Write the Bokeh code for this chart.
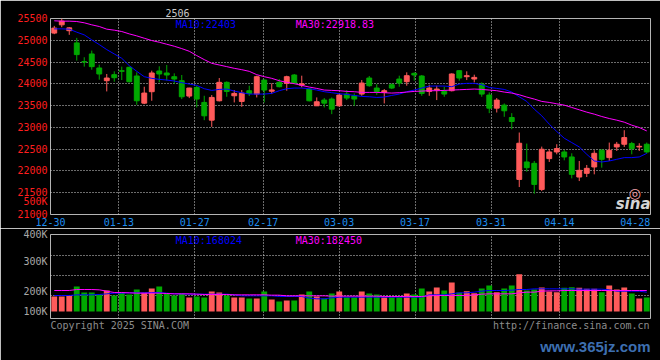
from bokeh.plotting import figure
from bokeh.layouts import column
from bokeh.models import Range1d, FixedTicker, Label, ColumnDataSource, Title
from bokeh.embed import file_html
from bokeh.resources import INLINE

# ---------------- data ----------------
dates = ["12-30", "12-31", "01-02", "01-03", "01-06", "01-07", "01-08", "01-09", "01-10",
         "01-13", "01-14", "01-15", "01-16", "01-17", "01-20", "01-21", "01-22", "01-23", "01-24",
         "01-27", "02-05", "02-06", "02-07", "02-10", "02-11", "02-12", "02-13", "02-14",
         "02-17", "02-18", "02-19", "02-20", "02-21", "02-24", "02-25", "02-26", "02-27", "02-28",
         "03-03", "03-04", "03-05", "03-06", "03-07", "03-10", "03-11", "03-12", "03-13", "03-14",
         "03-17", "03-18", "03-19", "03-20", "03-21", "03-24", "03-25", "03-26", "03-27", "03-28",
         "03-31", "04-01", "04-02", "04-03", "04-07", "04-08", "04-09", "04-10", "04-11",
         "04-14", "04-15", "04-16", "04-17", "04-18", "04-21", "04-22", "04-23", "04-24", "04-25",
         "04-28", "04-29", "04-30"]

opens = [25165, 25355, 25220, 24940, 24510, 24686, 24364, 24072, 24210, 24302,
         24379, 24180, 23557, 23819, 24295, 24249, 24164, 24072, 23719, 23918,
         23573, 23166, 23611, 24034, 23726, 23596, 23842, 23765, 24087, 23830,
         24034, 24011, 24203, 23970, 23880, 23496, 23627, 23650, 23496, 23765,
         23726, 23765, 24133, 23903, 23803, 23980, 24110, 24049, 24241, 24180,
         23826, 23857, 23826, 23842, 24302, 24164, 24110, 23995, 23742, 23442,
         23511, 23227, 21806, 22206, 22175, 21576, 22283, 22436, 22436, 22321,
         21860, 21945, 22091, 22475, 22306, 22551, 22613, 22628, 22551, 22613]

highs = [25330, 25500, 25300, 25055, 24610, 24763, 24441, 24226, 24287, 24395,
         24395, 24264, 23934, 24302, 24402, 24433, 24241, 24203, 23910, 23957,
         23726, 23742, 24133, 24057, 23857, 23857, 23957, 24187, 24100, 24011,
         24110, 24187, 24226, 24187, 23903, 23688, 23673, 23688, 23765, 23857,
         23780, 24087, 24180, 23995, 23880, 24011, 24187, 24264, 24264, 24203,
         23980, 23957, 23934, 24241, 24310, 24287, 24210, 24034, 23803, 23673,
         23550, 23327, 22882, 22628, 22229, 22559, 22498, 22613, 22482, 22405,
         22229, 22137, 22475, 22498, 22651, 22667, 22935, 22667, 22636, 22651]

lows = [25140, 25300, 25125, 24533, 24395, 24325, 24095, 23826, 24049, 24087,
        24030, 23519, 23534, 23611, 24034, 24072, 23995, 23650, 23672, 23458,
        23166, 23012, 23596, 23703, 23573, 23473, 23719, 23688, 23573, 23765,
        23918, 23842, 23995, 23918, 23596, 23490, 23458, 23304, 23473, 23627,
        23496, 23726, 23934, 23749, 23550, 23880, 23934, 23957, 24072, 23726,
        23726, 23627, 23703, 23826, 24072, 24087, 24034, 23703, 23327, 23342,
        23243, 22958, 21630, 21983, 21476, 21538, 22206, 22382, 22244, 21829,
        21768, 21860, 21922, 22075, 22229, 22459, 22551, 22382, 22459, 22398]

closes = [25280, 25440, 25285, 24671, 24500, 24395, 24226, 24133, 24141, 24287,
          24049, 23611, 23788, 24249, 24226, 24203, 24110, 23703, 23903, 23650,
          23266, 23688, 24034, 23826, 23780, 23788, 23780, 24164, 23857, 23860,
          23934, 24164, 24018, 24000, 23611, 23588, 23557, 23419, 23742, 23673,
          23650, 24018, 23957, 23826, 23842, 23903, 24018, 24187, 24203, 23780,
          23903, 23880, 23765, 24226, 24133, 24187, 24148, 23765, 23442, 23627,
          23381, 23135, 22636, 22075, 21691, 22498, 22436, 22513, 22321, 21922,
          22014, 22060, 22405, 22267, 22475, 22613, 22766, 22513, 22566, 22436]

ma10 = [25262, 25262, 25255, 25186, 25124, 25009, 24901, 24786, 24686, 24587,
        24418, 24287, 24164, 24126, 24103, 24087, 24064, 24026, 23995, 23964,
        23888, 23849, 23872, 23880, 23834, 23796, 23765, 23765, 23765, 23780,
        23842, 23888, 23903, 23903, 23888, 23857, 23819, 23796, 23773, 23757,
        23734, 23711, 23703, 23688, 23696, 23734, 23765, 23819, 23857, 23903,
        23949, 23949, 23949, 23934, 23995, 24011, 24011, 23980, 23918, 23895,
        23872, 23811, 23703, 23596, 23419, 23266, 23074, 22905, 22751, 22651,
        22551, 22382, 22229, 22206, 22229, 22267, 22306, 22306, 22321, 22403]

ma30 = [25447, 25439, 25439, 25431, 25401, 25355, 25316, 25255, 25232, 25201,
        25147, 25101, 25047, 24994, 24955, 24909, 24863, 24809, 24748, 24648,
        24556, 24471, 24433, 24395, 24356, 24325, 24287, 24210, 24164, 24126,
        24072, 24034, 24003, 23964, 23926, 23895, 23857, 23849, 23842, 23826,
        23819, 23803, 23803, 23803, 23796, 23788, 23796, 23811, 23826, 23834,
        23842, 23842, 23849, 23857, 23865, 23872, 23880, 23872, 23857, 23842,
        23811, 23788, 23749, 23696, 23650, 23596, 23573, 23542, 23511, 23458,
        23404, 23350, 23304, 23250, 23204, 23166, 23120, 23051, 22997, 22918.83]

volume = [130500, 130500, 139200, 217500, 165300, 165300, 147900, 182700, 139200, 162400,
          147900, 191400, 162400, 200100, 217500, 153700, 139200, 153700, 121800, 130500,
          121800, 174000, 165300, 139200, 121800, 121800, 113100, 113100, 174000, 104400,
          87000, 95700, 95700, 147900, 174000, 130500, 113100, 156600, 174000, 124700,
          124700, 174000, 156600, 147900, 124700, 124700, 124700, 156600, 147900, 200100,
          174000, 208800, 182700, 252300, 165300, 176900, 159500, 200100, 226200, 168200,
          200100, 226200, 324800, 182700, 191400, 208800, 174000, 168200, 205900, 211700,
          205900, 197200, 197200, 168200, 226200, 191400, 208800, 156600, 113100, 121800]

vol_ma10 = [139200, 139200, 139200, 145000, 145000, 145000, 147900, 153700, 159500, 159500,
            162400, 162400, 162400, 165300, 165300, 159500, 153700, 153700, 150800, 150800,
            150800, 150800, 150800, 150800, 145000, 136300, 136300, 136300, 136300, 136300,
            130500, 130500, 130500, 130500, 116000, 110200, 110200, 118900, 124700, 124700,
            124700, 124700, 124700, 124700, 124700, 124700, 124700, 124700, 124700, 124700,
            145000, 145000, 145000, 153700, 162400, 162400, 168200, 176900, 182700, 182700,
            182700, 185600, 191400, 191400, 197200, 197200, 197200, 197200, 197200, 197200,
            194300, 194300, 194300, 194300, 188500, 176900, 176900, 176900, 176900, 168024]

vol_ma30 = [182700, 182700, 182700, 191400, 191400, 191400, 188500, 176900, 165300, 165300,
            162400, 159500, 159500, 159500, 159500, 156600, 153700, 153700, 153700, 150800,
            147900, 147900, 147900, 147900, 145000, 145000, 145000, 145000, 145000, 142100,
            142100, 136300, 136300, 136300, 136300, 136300, 136300, 133400, 133400, 133400,
            133400, 133400, 133400, 133400, 130500, 130500, 130500, 130500, 130500, 130500,
            136300, 139200, 139200, 139200, 139200, 139200, 145000, 150800, 153700, 153700,
            153700, 153700, 162400, 168200, 168200, 176900, 179800, 179800, 182700, 182700,
            182700, 182700, 182700, 182700, 182700, 182700, 182700, 182700, 182700, 182450]

price_ticks = [21000, 21500, 22000, 22500, 23000, 23500, 24000, 24500, 25000, 25500]
date_label_idx = [0, 9, 19, 28, 38, 48, 58, 67, 77]
# volume scale labels, at the heights where the source chart prints them
vol_tick_values = [0, 174000, 435000, 669900]
vol_tick_labels = ["100K", "200K", "300K", "400K"]
vol_top_label = "500K"          # printed inside the price panel's scale
vol_grid_values = [139200, 313200, 487200]
chart_title = "2506"
footer_left = "Copyright 2025 SINA.COM"
footer_right = "http://finance.sina.com.cn"
watermark = "www.365jz.com"

# ---------------- styling / geometry ----------------
RED = "#FF5A5A"
GREEN = "#00A800"
BLUE = "#0000FF"
MAGENTA = "#FF00FF"
GRID = "#D8D8D8"
BORDER = "#B4B4B4"
MONO = "DejaVu Sans Mono"
PRICE_LABEL = "#FF1E1E"
VOL_LABEL = "#A8A8A8"

n = len(dates)
xs = list(range(n))
colors = [RED if c >= o else GREEN for o, c in zip(opens, closes)]
src = ColumnDataSource(dict(
    x=xs, high=highs, low=lows,
    top=[max(o, c) for o, c in zip(opens, closes)],
    bottom=[min(o, c) for o, c in zip(opens, closes)],
    color=colors, vol=volume))

W = 660
PRICE_FRAME_H = 196
VOL_FRAME_H = 84
VOL_PER_PX = 8700
price_per_px = (price_ticks[-1] - price_ticks[0]) / PRICE_FRAME_H
px_per_slot = 600 / n


def style(p):
    p.background_fill_color = "black"
    p.border_fill_color = "black"
    p.outline_line_color = BORDER
    p.outline_line_width = 1
    for ax in p.axis:
        ax.axis_line_color = None
        ax.major_tick_line_color = None
        ax.minor_tick_line_color = None
        ax.major_tick_out = 0
        ax.major_tick_in = 0
        ax.minor_tick_out = 0
        ax.major_label_text_font = MONO
        ax.major_label_text_font_size = "10px"
        ax.major_label_standoff = 3
    for g in p.grid:
        g.grid_line_color = GRID
        g.grid_line_dash = "1 2"
        g.grid_line_width = 1


def lab(p, x, y, text, color, size="10px", align="left", baseline="middle",
        font=MONO, style_="normal"):
    p.add_layout(Label(x=x, y=y, text=text, text_color=color, text_font=font,
                       text_font_size=size, text_align=align, text_baseline=baseline,
                       text_font_style=style_))


# ---------------- price panel ----------------
pA = figure(width=W, height=18 + PRICE_FRAME_H + 14,
            x_range=Range1d(-0.5, n - 0.5),
            y_range=Range1d(price_ticks[0], price_ticks[-1]),
            output_backend="svg", toolbar_location=None,
            min_border_left=50, min_border_right=10, min_border_top=18, min_border_bottom=14)
style(pA)

pA.title.text = chart_title
pA.title.align = "left"
pA.title.offset = 115
pA.title.standoff = 4
pA.title.text_font = MONO
pA.title.text_font_size = "10px"
pA.title.text_font_style = "normal"
pA.title.text_color = "#C8C8C8"

pA.segment(x0="x", y0="low", x1="x", y1="high", line_color="color", line_width=1, source=src)
pA.vbar(x="x", width=0.65, top="top", bottom="bottom", fill_color="color",
        line_color="color", line_width=1, source=src)
pA.line(xs, ma10, line_color=BLUE, line_width=1)
pA.line(xs, ma30, line_color=MAGENTA, line_width=1)

tick_x = [round(k * n / (n - 1) - 0.5, 4) for k in date_label_idx]
pA.xaxis.ticker = FixedTicker(ticks=tick_x)
pA.xaxis.major_label_overrides = {t: dates[k] for t, k in zip(tick_x, date_label_idx)}
pA.xaxis.major_label_text_color = "#1E8EF0"

# the "500K" volume label sits 13.5 px above the price panel's bottom edge
vol500_at = round(price_ticks[0] + 13.5 * price_per_px, 1)
pA.yaxis.ticker = FixedTicker(ticks=price_ticks + [vol500_at])
pA.yaxis.major_label_overrides = {vol500_at: vol_top_label}
pA.yaxis.major_label_text_color = PRICE_LABEL
pA.xgrid.ticker = FixedTicker(ticks=tick_x[1:-1])
pA.ygrid.ticker = FixedTicker(ticks=price_ticks[1:-1])

top = price_ticks[-1]
lab(pA, 16.2, top, "MA10:%d" % ma10[-1], BLUE, baseline="top")
lab(pA, 32.2, top, "MA30:%.2f" % ma30[-1], MAGENTA, baseline="top")
# sina logo (eye + word) in the lower right corner
lab(pA, n - 2.6, price_ticks[0] + 22 * price_per_px, "\u25CE", "#F2A0A8", size="14px",
    align="center", font="DejaVu Sans")
lab(pA, n - 0.5, price_ticks[0] + 11 * price_per_px, "sina", "#D4D4D4", size="15px",
    align="right", font="DejaVu Sans", style_="bold italic")

# ---------------- volume panel ----------------
pB = figure(width=W, height=360 - (18 + PRICE_FRAME_H + 14),
            x_range=pA.x_range,
            y_range=Range1d(-7 * VOL_PER_PX, 77 * VOL_PER_PX + 100),
            output_backend="svg", toolbar_location=None,
            min_border_left=50, min_border_right=10, min_border_top=6, min_border_bottom=42)
style(pB)
pB.vbar(x="x", width=0.78, top="vol", bottom=0, fill_color="color", line_color=None, source=src)
pB.line(xs, vol_ma10, line_color=BLUE, line_width=1)
pB.line(xs, vol_ma30, line_color=MAGENTA, line_width=1)

pB.yaxis.ticker = FixedTicker(ticks=vol_tick_values)
pB.yaxis.major_label_overrides = dict(zip(vol_tick_values, vol_tick_labels))
pB.yaxis.major_label_text_color = VOL_LABEL
pB.xgrid.ticker = FixedTicker(ticks=tick_x[1:-1])
pB.ygrid.ticker = FixedTicker(ticks=vol_grid_values)

# footer texts carried by the bottom axis, centred under their spans
char_w = 6.02
left_c = round((len(footer_left) * char_w / 2) / px_per_slot - 0.5, 3)
right_c = round(n - 0.5 - (1 + len(footer_right) * char_w / 2) / px_per_slot, 3)
pB.xaxis.ticker = FixedTicker(ticks=[left_c, right_c])
pB.xaxis.major_label_overrides = {left_c: footer_left, right_c: footer_right}
pB.xaxis.major_label_text_color = "#8C8C8C"
pB.xaxis.major_label_standoff = 1

wm = Title(text=watermark, align="right", text_font="Liberation Sans",
           text_font_size="15px", text_font_style="bold", text_color="#3D6FB0",
           standoff=4)
pB.add_layout(wm, "below")

vtop = 77 * VOL_PER_PX
lab(pB, 16.2, vtop, "MA10:%d" % vol_ma10[-1], BLUE, baseline="top")
lab(pB, 32.2, vtop, "MA30:%d" % vol_ma30[-1], MAGENTA, baseline="top")

layout = column(pA, pB, spacing=0)
html = file_html(layout, INLINE)
html = html.replace("<body>", '<body style="background-color:#000000">', 1)
open("out.html", "w").write(html)
